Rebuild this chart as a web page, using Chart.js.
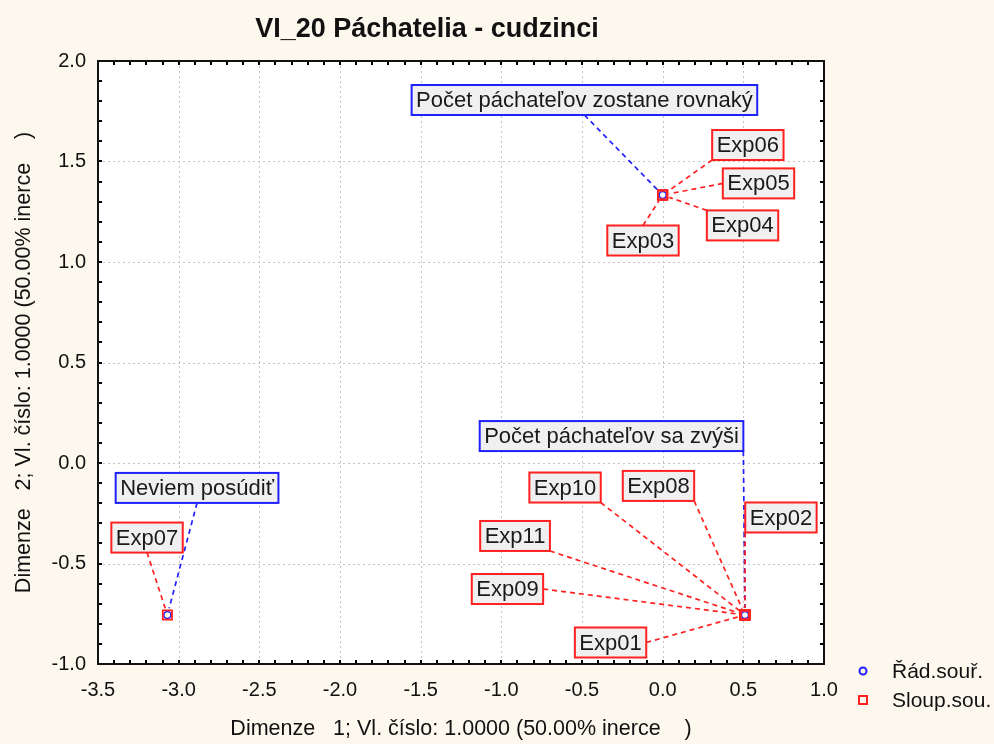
<!DOCTYPE html>
<html><head><meta charset="utf-8">
<script src="https://cdn.jsdelivr.net/npm/chart.js@4/dist/chart.umd.min.js"></script>
<style>html,body{margin:0;padding:0;background:#fcf8ee;}#wrap{width:994px;height:744px;position:relative}</style>
</head><body><div id="wrap"><canvas id="c" width="994" height="744"></canvas></div>
<script>
// ---- data ----
const chartTitle = "VI_20 Páchatelia - cudzinci";
const xTitle = "Dimenze   1; Vl. číslo: 1.0000 (50.00% inerce    )";
const yTitle = "Dimenze   2; Vl. číslo: 1.0000 (50.00% inerce    )";
const seriesNames = ["Řád.souř.", "Sloup.sou."];
const rowNames = ["Počet páchateľov zostane rovnaký", "Počet páchateľov sa zvýši", "Neviem posúdiť"];
const rowX = [0.0, 0.51, -3.07];
const rowY = [1.333, -0.756, -0.756];
const colNames = ["Exp01","Exp02","Exp03","Exp04","Exp05","Exp06","Exp07","Exp08","Exp09","Exp10","Exp11"];
const colX = [0.51, 0.51, 0.0, 0.0, 0.0, 0.0, -3.07, 0.51, 0.51, 0.51, 0.51];
const colY = [-0.756, -0.756, 1.333, 1.333, 1.333, 1.333, -0.756, -0.756, -0.756, -0.756, -0.756];
const xTicks = [-3.5, -3.0, -2.5, -2.0, -1.5, -1.0, -0.5, 0.0, 0.5, 1.0];
const yTicks = [-1.0, -0.5, 0.0, 0.5, 1.0, 1.5, 2.0];
// label box centres (data units)
const rowLabelX = [-0.485, -0.317, -2.886];
const rowLabelY = [1.806, 0.134, -0.124];
const colLabelX = [-0.323, 0.733, -0.122, 0.495, 0.594, 0.528, -3.196, -0.026, -0.962, -0.605, -0.915];
const colLabelY = [-0.893, -0.271, 1.107, 1.182, 1.391, 1.582, -0.371, -0.114, -0.627, -0.122, -0.363];

const BLUE = '#2020ff', RED = '#ff2020';
const FONT = '"Liberation Sans", Arial, sans-serif';

function drawLabel(ctx, cx, cy, px, py, text, color) {
  ctx.save();
  ctx.font = '22px ' + FONT;
  const w = ctx.measureText(text).width + 9, h = 30;
  const l = cx - w/2, t = cy - h/2, r = l + w, b = t + h;
  const anchors = [];
  for (const ax of [0,1,2]) for (const ay of [0,1,2]) {
    if (ax === 1 && ay === 1) continue;
    const x = [l, cx, r][ax], y = [t, cy, b][ay];
    const corner = (ax !== 1 && ay !== 1) ? 3 : 0;
    anchors.push({x, y, d: Math.hypot(x-px, y-py) + corner});
  }
  anchors.sort((a,b)=>a.d-b.d);
  const a = anchors[0];
  const dx = px - a.x, dy = py - a.y, L = Math.hypot(dx, dy);
  const gap = 7;
  if (L > gap) {
    ctx.beginPath();
    ctx.setLineDash([5,4]);
    ctx.lineWidth = 1.7;
    ctx.strokeStyle = color;
    ctx.moveTo(a.x, a.y);
    ctx.lineTo(px - dx/L*gap, py - dy/L*gap);
    ctx.stroke();
  }
  ctx.setLineDash([]);
  ctx.fillStyle = '#f0f0f0';
  ctx.fillRect(l, t, w, h);
  ctx.lineWidth = 2;
  ctx.strokeStyle = color;
  ctx.strokeRect(l, t, w, h);
  ctx.fillStyle = '#1a1a1a';
  ctx.textAlign = 'center';
  ctx.textBaseline = 'middle';
  ctx.fillText(text, cx, cy + 1);
  ctx.restore();
}

const deco = {
  id: 'deco',
  beforeDraw(chart) {
    const {ctx, chartArea: ca} = chart;
    ctx.save();
    ctx.fillStyle = '#fcf8ee';
    ctx.fillRect(0, 0, chart.width, chart.height);
    ctx.fillStyle = '#ffffff';
    ctx.fillRect(ca.left, ca.top, ca.right - ca.left, ca.bottom - ca.top);
    ctx.restore();
  },
  beforeDatasetsDraw(chart) {
    const {ctx, chartArea: ca, scales} = chart;
    ctx.save();
    ctx.strokeStyle = '#c4c4c4';
    ctx.lineWidth = 1;
    ctx.setLineDash([2, 3]);
    for (const v of xTicks) {
      const x = Math.round(scales.x.getPixelForValue(v)) + 0.5;
      if (x <= ca.left + 2 || x >= ca.right - 2) continue;
      ctx.beginPath(); ctx.moveTo(x, ca.top); ctx.lineTo(x, ca.bottom); ctx.stroke();
    }
    for (const v of yTicks) {
      const y = Math.round(scales.y.getPixelForValue(v)) + 0.5;
      if (y <= ca.top + 2 || y >= ca.bottom - 2) continue;
      ctx.beginPath(); ctx.moveTo(ca.left, y); ctx.lineTo(ca.right, y); ctx.stroke();
    }
    ctx.restore();
  },
  afterDatasetsDraw(chart) {
    const {ctx, chartArea: ca, scales} = chart;
    ctx.save();
    ctx.strokeStyle = '#000';
    ctx.lineWidth = 2;
    ctx.beginPath();
    for (let i = 0; i <= 45; i++) {
      const x = Math.round(scales.x.getPixelForValue(-3.5 + i * 0.1));
      ctx.moveTo(x, ca.bottom); ctx.lineTo(x, ca.bottom - 4);
      ctx.moveTo(x, ca.top); ctx.lineTo(x, ca.top + 4);
    }
    for (let i = 0; i <= 30; i++) {
      const y = Math.round(scales.y.getPixelForValue(-1.0 + i * 0.1));
      ctx.moveTo(ca.left, y); ctx.lineTo(ca.left + 4, y);
      ctx.moveTo(ca.right, y); ctx.lineTo(ca.right - 4, y);
    }
    ctx.stroke();
    ctx.strokeStyle = '#111';
    ctx.lineWidth = 2;
    ctx.strokeRect(ca.left, ca.top, ca.right - ca.left, ca.bottom - ca.top);
    rowNames.forEach((n, i) => {
      drawLabel(ctx, scales.x.getPixelForValue(rowLabelX[i]), scales.y.getPixelForValue(rowLabelY[i]),
        scales.x.getPixelForValue(rowX[i]), scales.y.getPixelForValue(rowY[i]), n, BLUE);
    });
    colNames.forEach((n, i) => {
      drawLabel(ctx, scales.x.getPixelForValue(colLabelX[i]), scales.y.getPixelForValue(colLabelY[i]),
        scales.x.getPixelForValue(colX[i]), scales.y.getPixelForValue(colY[i]), n, RED);
    });
    // title
    ctx.fillStyle = '#111';
    ctx.font = 'bold 27px ' + FONT;
    ctx.textAlign = 'center';
    ctx.textBaseline = 'middle';
    ctx.fillText(chartTitle, 427, 30);
    // legend
    ctx.font = '21px ' + FONT;
    ctx.textAlign = 'left';
    ctx.lineWidth = 2;
    ctx.strokeStyle = BLUE;
    ctx.beginPath(); ctx.arc(863, 671, 3.5, 0, Math.PI * 2); ctx.stroke();
    ctx.fillStyle = '#111';
    ctx.fillText(seriesNames[0], 892, 672);
    ctx.strokeStyle = RED;
    ctx.strokeRect(859, 696, 8, 8);
    ctx.fillText(seriesNames[1], 892, 701);
    ctx.restore();
  }
};

const rowData = rowX.map((x, i) => ({x, y: rowY[i]}));
const colData = colX.map((x, i) => ({x, y: colY[i]}));

new Chart(document.getElementById('c'), {
  type: 'scatter',
  data: {
    datasets: [
      { label: seriesNames[0], data: rowData, pointStyle: 'circle', pointRadius: 3.5,
        borderColor: BLUE, backgroundColor: '#ffffff', borderWidth: 1.5, order: 2 },
      { label: seriesNames[1], data: colData, pointStyle: 'rect', pointRadius: 6.5,
        borderColor: RED, backgroundColor: 'rgba(255,255,255,0)', borderWidth: 1.8, order: 1 }
    ]
  },
  options: {
    responsive: false,
    animation: false,
    events: [],
    layout: { padding: { left: 0, top: 61, right: 170, bottom: 0 } },
    plugins: { legend: { display: false }, title: { display: false }, tooltip: { enabled: false } },
    scales: {
      x: {
        type: 'linear', min: -3.5, max: 1.0,
        afterBuildTicks: s => { s.ticks = xTicks.map(v => ({value: v})); },
        afterFit: s => { s.height = 80; },
        grid: { display: false, drawTicks: false },
        border: { display: false },
        ticks: { padding: 14, color: '#111', font: { family: FONT, size: 20 },
                 callback: v => Number(v).toFixed(1), maxRotation: 0, autoSkip: false },
        title: { display: true, text: xTitle, color: '#111', font: { family: FONT, size: 21.5 },
                 padding: { top: 0, bottom: 2 } }
      },
      y: {
        type: 'linear', min: -1.0, max: 2.0,
        afterBuildTicks: s => { s.ticks = yTicks.map(v => ({value: v})); },
        afterFit: s => { s.width = 98; },
        grid: { display: false, drawTicks: false },
        border: { display: false },
        ticks: { padding: 12, color: '#111', font: { family: FONT, size: 20 },
                 callback: v => Number(v).toFixed(1), autoSkip: false },
        title: { display: true, text: yTitle, color: '#111', font: { family: FONT, size: 21.5 },
                 padding: { top: 11, bottom: 0 } }
      }
    }
  },
  plugins: [deco]
});
</script></body></html>
